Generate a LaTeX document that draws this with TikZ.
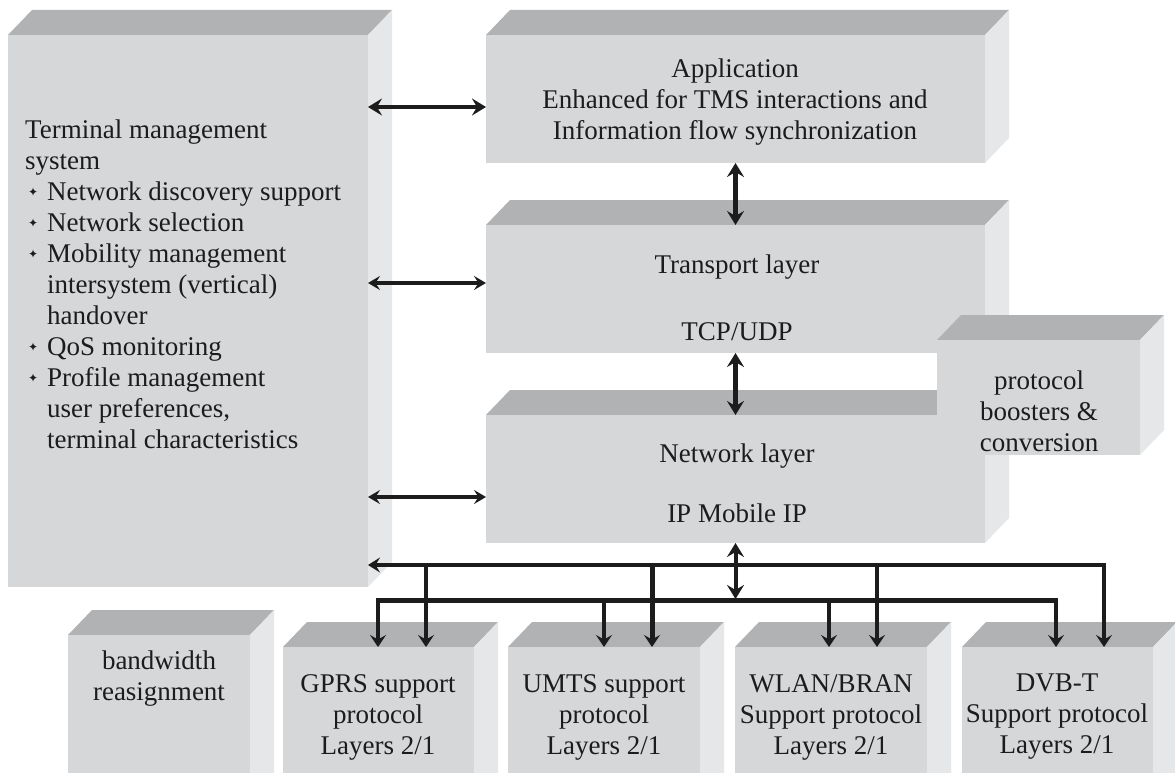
\documentclass[tikz,border=0pt]{standalone}
\usepackage{fontspec}
\setmainfont{Liberation Serif}
\newfontfamily\symfont{DejaVu Sans}
\usetikzlibrary{arrows.meta,calc}

\definecolor{faceF}{HTML}{D6D7D9}
\definecolor{faceT}{HTML}{B1B2B4}
\definecolor{faceS}{HTML}{E6E7E8}
\definecolor{ink}{HTML}{1C1C1C}

\newcommand\tx{\fontsize{27}{31}\selectfont}
\newcommand\bul{\makebox[22pt][l]{\hspace{3pt}\raisebox{4pt}{\symfont\fontsize{12}{12}\selectfont ✦}}}
\newcommand\ind{\hspace*{22pt}}

% 3-D slab: name, left, top, right, bottom (front face, y grows downwards)
\newcommand\slab[5]{%
  \fill[faceT] (#2,#3) -- (#2+24,#3-25) -- (#4+24,#3-25) -- (#4,#3) -- cycle;
  \fill[faceS] (#4,#3) -- (#4+24,#3-25) -- (#4+24,#5-25) -- (#4,#5) -- cycle;
  \pgfmathsetmacro\slabw{#4-#2}%
  \pgfmathsetmacro\slabh{#5-#3}%
  \node[frontface, minimum width=\slabw pt, minimum height=\slabh pt]
    (#1) at ({(#2+#4)/2},{(#3+#5)/2}) {};%
}

\tikzset{
  frontface/.style={fill=faceF, inner sep=0pt, outer sep=0pt},
  label/.style={font=\tx, align=center, inner sep=0pt, text=ink},
  bigtip/.style={Stealth[length=14pt, width=17pt, inset=5pt]},
  smalltip/.style={Stealth[length=12pt, width=14pt, inset=4.5pt]},
  heavy/.style={draw=ink, line width=4.6pt, {Stealth[length=14pt, width=17pt, inset=5pt]}-{Stealth[length=14pt, width=17pt, inset=5pt]}},
  light/.style={draw=ink, line width=3.2pt, {Stealth[length=12pt, width=14pt, inset=4.5pt]}-{Stealth[length=12pt, width=14pt, inset=4.5pt]}},
  busU/.style={draw=ink, line width=3.4pt},
  busL/.style={draw=ink, line width=5pt},
  drop/.style={draw=ink, line width=3.4pt, -{Stealth[length=12pt, width=16pt, inset=4.5pt]}},
}

\begin{document}
\begin{tikzpicture}[x=1pt, y=-1pt]
\clip (0,0) rectangle (1175,773);
\fill[white] (0,0) rectangle (1175,773);

% stack of layers and the terminal management system
\slab{tms}{8}{35}{368}{587}
\slab{app}{486}{35}{985}{163}
\slab{tr}{486}{225}{985}{353}
\slab{net}{486}{415}{985}{543}
\slab{pb}{937}{340}{1140}{455}

% access boxes along the bottom
\slab{bw}{68}{635}{250}{800}
\slab{gprs}{283}{647}{474}{800}
\slab{umts}{508}{647}{700}{800}
\slab{wlan}{735}{647}{927}{800}
\slab{dvb}{962}{647}{1153}{800}

% texts
\node[label, anchor=north west, align=left] (tmstext) at (25,120)
  {Terminal management\\
   system\\
   \bul Network discovery support\\
   \bul Network selection\\
   \bul Mobility management\\
   \ind intersystem (vertical)\\
   \ind handover\\
   \bul QoS monitoring\\
   \bul Profile management\\
   \ind user preferences,\\
   \ind terminal characteristics};

\node[label] (apptext) at (735,102)
  {Application\\ Enhanced for TMS interactions and\\ Information flow synchronization};
\node[label] (trtext) at (737,298) {Transport layer\\[36pt] TCP/UDP};
\node[label] (nettext) at (737,483) {Network layer\\[29pt] IP Mobile IP};
\node[label] (pbtext) at (1039,411) {protocol\\ boosters \&\\ conversion};
\node[label] (bwtext) at (159,679) {bandwidth\\ reasignment};
\node[label] (gprstext) at (378,717) {GPRS support\\ protocol\\ Layers 2/1};
\node[label] (umtstext) at (604,717) {UMTS support\\ protocol\\ Layers 2/1};
\node[label] (wlantext) at (831,717) {WLAN/BRAN\\ Support protocol\\ Layers 2/1};
\node[label] (dvbtext) at (1057,717) {DVB-T\\ Support protocol\\ Layers 2/1};

% links between the terminal management system and the layers
\draw[heavy] ([yshift=-8pt]tms.east |- app.west) -- ([yshift=-8pt]app.west);
\draw[light] ([yshift=6pt]tms.east |- tr.west) -- ([yshift=6pt]tr.west);
\draw[light] ([yshift=-18pt]tms.east |- net.west) -- ([yshift=-18pt]net.west);

% vertical links between the layers
\draw[heavy] (app.south) -- (tr.north);
\draw[heavy] (tr.south) -- (net.north);

% bus towards the access boxes
\coordinate (uR) at (1104,565);
\coordinate (lL) at (378,600);
\coordinate (lR) at (1056,600);
\coordinate (u1) at (426,565);
\coordinate (u2) at (652,565);
\coordinate (u3) at (877,565);
\coordinate (l1) at (604,600);
\coordinate (l2) at (829,600);

\draw[busU, line join=miter, {Stealth[length=12pt, width=15pt, inset=4.5pt]}-{Stealth[length=12pt, width=16pt, inset=4.5pt]}]
  (tms.east |- uR) -- (uR) -- (uR |- dvb.north);
\draw[busL, line width=3.8pt, line join=miter, {Stealth[length=12pt, width=16pt, inset=4.5pt]}-{Stealth[length=12pt, width=16pt, inset=4.5pt]}]
  (lL |- gprs.north) -- (lL) -- (lR) -- (lR |- dvb.north);
\draw[busL] ([xshift=-1.9pt]lL) -- ([xshift=1.9pt]lR);

\draw[drop] (u1) -- (u1 |- gprs.north);
\draw[drop, line width=5pt] (u2) -- (u2 |- umts.north);
\draw[drop] (u3) -- (u3 |- wlan.north);
\draw[drop] (l1) -- (l1 |- umts.north);
\draw[drop] (l2) -- (l2 |- wlan.north);

\draw[heavy, line width=4pt, shorten >=1pt] (net.south) -- (net.south |- lL);
\end{tikzpicture}
\end{document}
